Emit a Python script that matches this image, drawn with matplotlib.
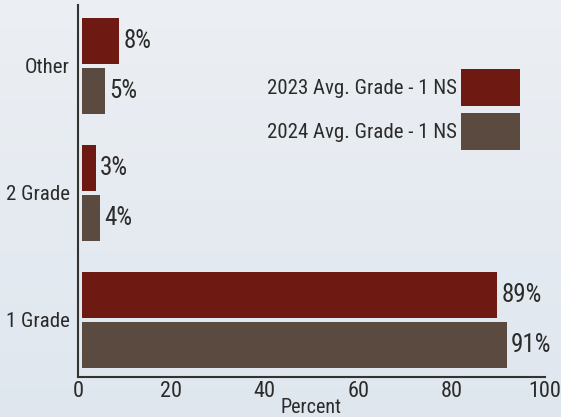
import numpy as np
import matplotlib
matplotlib.use("Agg")
import matplotlib.pyplot as plt
from matplotlib import font_manager as fm

categories = ["1 Grade", "2 Grade", "Other"]
grade_2023 = [89, 3, 8]
grade_2024 = [91, 4, 5]
series_labels = ["2023 Avg. Grade - 1 NS", "2024 Avg. Grade - 1 NS"]
xticks = [0, 20, 40, 60, 80, 100]

c2023 = "#6e1a12"
c2024 = "#5a4a40"
txt = "#2b2b2b"

# look for a narrow sans font (the reference text is condensed)
pick = None
prefs = ["LiberationSansNarrow-Regular", "RobotoCondensed-Regular", "Roboto_Condensed",
         "DejaVuSansCondensed.", "OpenSans_Condensed-Regular", "OpenSansCondensed",
         "NotoSans_Condensed-Regular", "NotoSansCondensed-Regular"]
for p in prefs:
    for f in fm.fontManager.ttflist:
        if p.lower() in f.fname.lower().replace("-", "").replace("_", "") or p.lower() in f.fname.lower():
            if "italic" not in f.fname.lower() and "bold" not in f.fname.lower():
                pick = f
                break
    if pick:
        break

if pick is not None:
    plt.rcParams["font.family"] = [pick.name, "DejaVu Sans"]
    plt.rcParams["font.stretch"] = pick.stretch
    k = 1.0
else:
    plt.rcParams["font.family"] = ["Liberation Sans", "DejaVu Sans"]
    k = 0.84

fig = plt.figure(figsize=(5.61, 4.17), dpi=100)

# sky-ish background
bg = fig.add_axes([0, 0, 1, 1], zorder=0)
grad = np.linspace(0, 1, 256).reshape(-1, 1)
top = np.array([0.925, 0.937, 0.955])
bot = np.array([0.875, 0.905, 0.935])
img = top[None, None, :] * (1 - grad[:, :, None]) + bot[None, None, :] * grad[:, :, None]
bg.imshow(img, aspect="auto", extent=[0, 1, 0, 1])
bg.axis("off")

ax = fig.add_axes([78 / 561, 40 / 417, 467 / 561, 372 / 417], zorder=1)
ax.set_facecolor("none")

y = np.arange(len(categories))
h = 0.36
gap = 0.8  # bars sit a few pixels off the axis line in the original
b1 = ax.barh(y + 0.196, grade_2023, left=gap, height=h, color=c2023, label=series_labels[0])
b2 = ax.barh(y - 0.196, grade_2024, left=gap, height=h, color=c2024, label=series_labels[1])

for bars, vals in [(b1, grade_2023), (b2, grade_2024)]:
    for r, v in zip(bars, vals):
        ax.annotate(f"{v}%", (r.get_x() + r.get_width(), r.get_y() + r.get_height() / 2),
                    xytext=(3, 0), textcoords="offset points",
                    ha="left", va="center", fontsize=18 * k, color=txt)

ax.set_xlim(0, 100)
ax.set_ylim(-0.45, 2.48)
ax.set_xticks(xticks)
ax.set_yticks(y)
ax.set_yticklabels(categories)
ax.tick_params(axis="both", length=0, colors=txt)
ax.tick_params(axis="x", labelsize=16 * k, pad=3)
ax.tick_params(axis="y", labelsize=15 * k, pad=6)
ax.set_xlabel("Percent", fontsize=14.5 * k, color=txt, labelpad=-3)

for s in ["top", "right"]:
    ax.spines[s].set_visible(False)
for s in ["left", "bottom"]:
    ax.spines[s].set_color("#333333")
    ax.spines[s].set_linewidth(1.5)

# legend boxes ~59x37 px; matplotlib takes a descent off the handle height
fs = 15 * k * 100 / 72
hh = (37 / fs - 0.245) / 0.65
leg = ax.legend(loc="upper right", bbox_to_anchor=(520 / 561, 1 - 69 / 417),
                bbox_transform=fig.transFigure, frameon=False, markerfirst=False,
                fontsize=15 * k, handlelength=59 / fs, handleheight=hh,
                handletextpad=4 / fs, labelspacing=7 / fs, borderpad=0, borderaxespad=0)
for t in leg.get_texts():
    t.set_color(txt)

fig.savefig("out.png", dpi=100)
